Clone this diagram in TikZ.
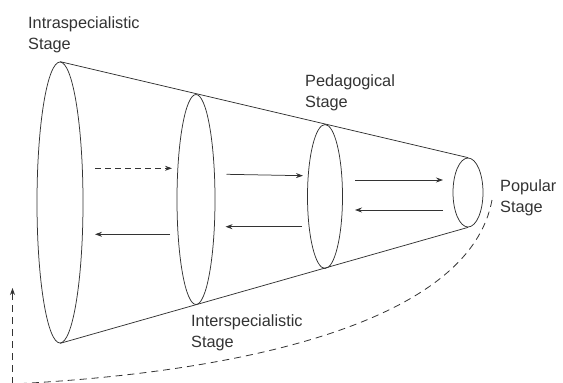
\documentclass[tikz,border=0pt]{standalone}
\usepackage{fontspec}
\setmainfont{Liberation Sans}
\usetikzlibrary{shapes.geometric,arrows.meta}
\definecolor{ink}{gray}{0.2}
\begin{document}
\begin{tikzpicture}[x=1pt,y=-1pt,
  ring/.style={ellipse,draw=ink,inner sep=0pt,line width=0.75pt},
  edge/.style={draw=ink,line width=0.75pt},
  lbl/.style={anchor=base west,align=left,inner sep=0pt,font=\fontsize{16.3}{20.5}\selectfont,text=ink},
  flow/.style={draw=ink,-{Stealth[length=7pt,width=5pt]},line width=0.75pt},
  back/.style={draw=ink,dash pattern=on 7pt off 5pt,line width=0.8pt}]
\useasboundingbox (0,0) rectangle (563,383);
\node[ring,minimum width=46pt,minimum height=281pt] (e1) at (60,202.5) {};
\node[ring,minimum width=38pt,minimum height=210pt] (e2) at (196,199.5) {};
\node[ring,minimum width=35pt,minimum height=144pt] (e3) at (325,196.5) {};
\node[ring,minimum width=30pt,minimum height=69pt] (e4) at (468,192.5) {};
\draw[edge] (e1.north) -- (e4.north);
\draw[edge] (e1.south) -- (e4.south);
\node[lbl] (l1) at (28,49) {Intraspecialistic\\Stage};
\node[lbl] (l2) at (305,107) {Pedagogical\\Stage};
\node[lbl] (l3) at (500,212) {Popular\\Stage};
\node[lbl] (l4) at (191,347) {Interspecialistic\\Stage};
\coordinate (a1s) at (95,168.3); \coordinate (a1e) at (172,168.3);
\coordinate (b1s) at (170,234.3); \coordinate (b1e) at (95,234.3);
\coordinate (a2s) at (226.5,174.3); \coordinate (a2e) at (303,175.7);
\coordinate (b2s) at (302,226.7); \coordinate (b2e) at (225.5,226.7);
\coordinate (a3s) at (355,180); \coordinate (a3e) at (443,180);
\coordinate (b3s) at (443,210); \coordinate (b3e) at (355,210);
\draw[flow,dash pattern=on 6pt off 4pt] (a1s) -- (a1e);
\draw[flow] (b1s) -- (b1e);
\draw[flow] (a2s) -- (a2e);
\draw[flow] (b2s) -- (b2e);
\draw[flow] (a3s) -- (a3e);
\draw[flow] (b3s) -- (b3e);
\coordinate (c0) at (492,200);
\coordinate (c1) at (12.5,384);
\coordinate (c2) at (12.5,288);
\draw[back] (c0) .. controls (470,320) and (250,372) .. (c1);
\draw[back,-{Stealth[length=7pt,width=5pt]}] (c1) -- (c2);
\end{tikzpicture}
\end{document}
